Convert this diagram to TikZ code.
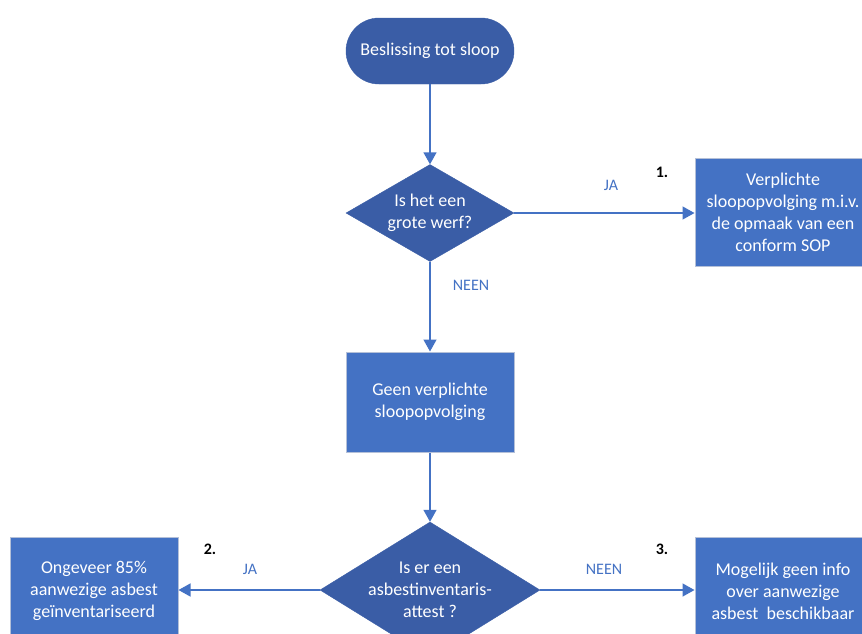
\documentclass[tikz,border=0pt]{standalone}
\usepackage{fontspec}
\setmainfont{Carlito}
\usetikzlibrary{shapes.geometric,arrows.meta}

\definecolor{donker}{HTML}{3A5DA6}
\definecolor{blauw}{HTML}{4472C4}
\definecolor{rand}{HTML}{B4C0D8}

\tikzset{
    eind/.style={draw=donker,fill=donker,text=white,rounded corners=33pt,minimum width=168pt,minimum height=66pt,align=center,font=\fontsize{18}{22}\selectfont},
    vraag/.style={diamond,draw=donker,fill=donker,text=white,inner sep=0pt,aspect=1.7,align=center,font=\fontsize{18}{22}\selectfont},
    vak/.style={draw=rand,line width=1pt,fill=blauw,text=white,align=center,font=\fontsize{18}{22}\selectfont},
    pijl/.style={draw=blauw,line width=1.4pt,-{Triangle[length=12pt,width=13pt]}},
    antw/.style={text=blauw,font=\fontsize{16}{18}\selectfont},
    nr/.style={font=\bfseries\fontsize{16}{18}\selectfont}
}

\begin{document}
\begin{tikzpicture}[x=1pt,y=-1pt]
    \useasboundingbox (0,0) rectangle (862,633);
    \fill[white] (0,0) rectangle (862,633);

    % vormen
    \node[eind] (start) at (430,51) {Beslissing tot sloop};
    \node[vraag,minimum width=168pt,minimum height=97pt] (werf) at (430,213) {Is het een\\grote werf?};
    \node[vak,minimum width=176pt,minimum height=108pt] (sop) at (783,212) {Verplichte\\sloopopvolging m.i.v.\\de opmaak van een\\conform SOP};
    \node[vak,minimum width=168pt,minimum height=100pt] (geen) at (430,402) {Geen verplichte\\sloopopvolging};
    \node[vraag,minimum width=220pt,minimum height=136pt] (attest) at (430,590) {Is er een\\asbestinventaris-\\attest ?};
    \node[vak,minimum width=168pt,minimum height=108pt] (inv) at (94,591) {Ongeveer 85\%\\aanwezige asbest\\geïnventariseerd};
    \node[vak,minimum width=176pt,minimum height=108pt] (info) at (783,591) {Mogelijk geen info\\over aanwezige\\asbest\ \ beschikbaar};

    % pijlen
    \draw[pijl] (start) -- (werf);
    \draw[pijl] (werf.east) -- (werf.east -| sop.west);
    \draw[pijl] (werf) -- (geen);
    \draw[pijl] (geen) -- (attest);
    \draw[pijl] (attest.west) -- (attest.west -| inv.east);
    \draw[pijl] (attest.east) -- (attest.east -| info.west);

    % labels
    \node[antw] (ja1) at (611,185) {JA};
    \node[antw] (neen1) at (471,285) {NEEN};
    \node[antw] (ja2) at (250,569) {JA};
    \node[antw] (neen2) at (604,569) {NEEN};
    \node[nr] (n1) at (662,172) {1.};
    \node[nr] (n2) at (210,549) {2.};
    \node[nr] (n3) at (662,549) {3.};
\end{tikzpicture}
\end{document}
